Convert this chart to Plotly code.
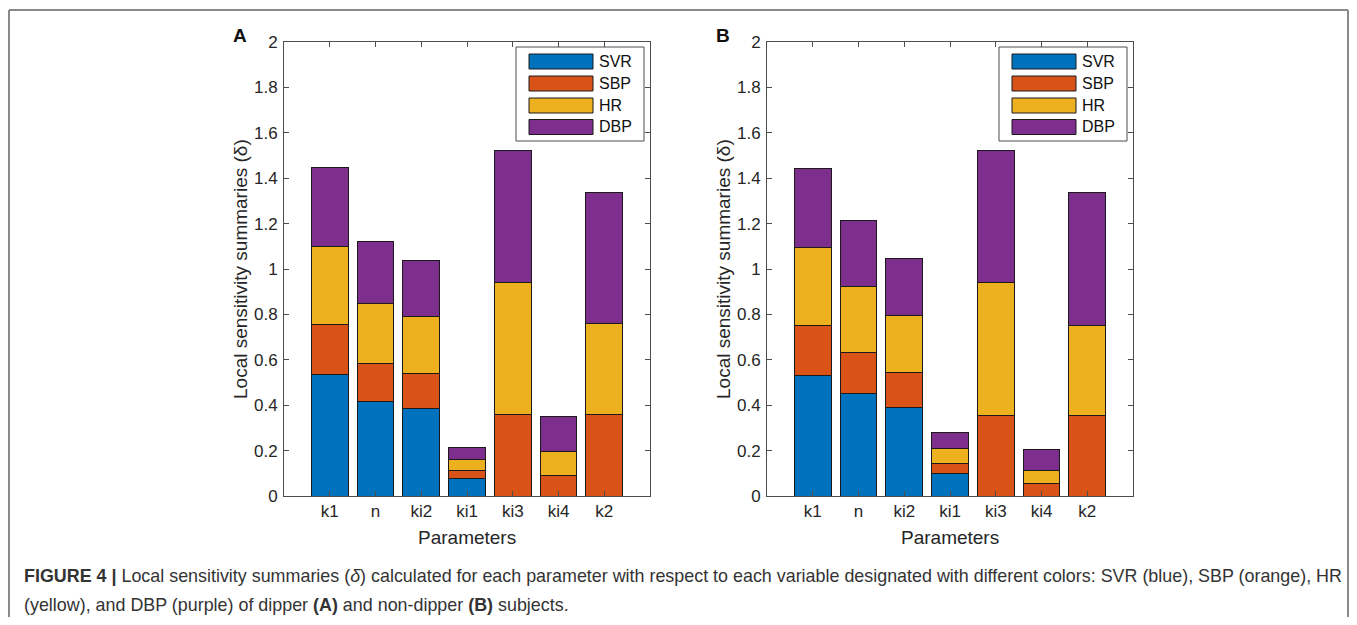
import plotly.graph_objects as go

# page body has an 8px margin; figure sized to fit inside the 1357x625 window
OFF = 8
W, H = 1357 - 2 * OFF, 625 - 2 * OFF

categories = ["k1", "n", "ki2", "ki1", "ki3", "ki4", "k2"]
series_names = ["SVR", "SBP", "HR", "DBP"]
series_colors = ["#0072BD", "#D95319", "#EDB120", "#7E2F8E"]

# Panel A (dipper) - segment heights
a_svr = [0.537, 0.415, 0.386, 0.078, 0.0, 0.0, 0.0]
a_sbp = [0.219, 0.169, 0.154, 0.034, 0.360, 0.090, 0.359]
a_hr = [0.345, 0.265, 0.250, 0.051, 0.580, 0.104, 0.401]
a_dbp = [0.348, 0.271, 0.247, 0.052, 0.581, 0.155, 0.579]

# Panel B (non-dipper) - segment heights
b_svr = [0.532, 0.451, 0.388, 0.101, 0.0, 0.0, 0.0]
b_sbp = [0.218, 0.181, 0.154, 0.042, 0.356, 0.053, 0.354]
b_hr = [0.343, 0.289, 0.251, 0.068, 0.584, 0.060, 0.398]
b_dbp = [0.349, 0.294, 0.254, 0.068, 0.582, 0.091, 0.585]

y_tickvals = [0, 0.2, 0.4, 0.6, 0.8, 1.0, 1.2, 1.4, 1.6, 1.8, 2.0]
y_ticktext = ["0", "0.2", "0.4", "0.6", "0.8", "1", "1.2", "1.4", "1.6", "1.8", "2"]

caption_line1 = ("<b>FIGURE 4 |</b> Local sensitivity summaries (<i>δ</i>) calculated for each parameter "
                 "with respect to each variable designated with different colors: SVR (blue), SBP (orange), HR")
caption_line2 = "(yellow), and DBP (purple) of dipper <b>(A)</b> and non-dipper <b>(B)</b> subjects."

FONT = "Liberation Sans, Arial, sans-serif"
TXT = "#262626"


def px(x):
    return (x - OFF) / W


def py(y):
    return 1 - (y - OFF) / H


fig = go.Figure()

panels = [
    ("x", "y", [a_svr, a_sbp, a_hr, a_dbp]),
    ("x2", "y2", [b_svr, b_sbp, b_hr, b_dbp]),
]
for xa, ya, data in panels:
    for name, color, vals in zip(series_names, series_colors, data):
        fig.add_trace(go.Bar(
            x=categories, y=vals, name=name, xaxis=xa, yaxis=ya,
            marker=dict(color=color, line=dict(color="#1a1a1a", width=1)),
            showlegend=False, hoverinfo="x+y+name",
        ))

axis_common = dict(
    showline=True, linecolor="#4d4d4d", linewidth=1, mirror="ticks",
    ticks="inside", ticklen=5, tickcolor="#4d4d4d",
    tickfont=dict(family=FONT, size=17, color=TXT),
    showgrid=False, zeroline=False, automargin=False,
)

xdoms = [[px(284), px(650)], [px(767), px(1133)]]
ydom = [py(496), py(42)]

fig.update_layout(
    template="none",
    width=W, height=H, margin=dict(l=0, r=0, t=0, b=0, pad=0), autosize=False,
    paper_bgcolor="white", plot_bgcolor="white",
    barmode="stack", bargap=0.2,
    xaxis=dict(domain=xdoms[0], anchor="y", type="category", range=[-1, 7], **axis_common),
    yaxis=dict(domain=ydom, anchor="x", range=[0, 2], tickvals=y_tickvals, ticktext=y_ticktext,
               ticklabelstandoff=2, **axis_common),
    xaxis2=dict(domain=xdoms[1], anchor="y2", type="category", range=[-1, 7], **axis_common),
    yaxis2=dict(domain=ydom, anchor="x2", range=[0, 2], tickvals=y_tickvals, ticktext=y_ticktext,
                ticklabelstandoff=2, **axis_common),
)

shapes = []
annotations = []

# outer frame (left/top/right)
frame = dict(xref="paper", yref="paper", line=dict(color="#8a8a8a", width=2), layer="above", type="line")
shapes.append(dict(frame, x0=px(9), x1=px(9), y0=py(640), y1=py(10)))
shapes.append(dict(frame, x0=px(9), x1=px(1348), y0=py(10), y1=py(10)))
shapes.append(dict(frame, x0=px(1348), x1=px(1348), y0=py(640), y1=py(10)))

for i, off in enumerate([0, 483]):
    annotations.append(dict(text="Local sensitivity summaries (δ)", xref="paper", yref="paper",
                            x=px(240 + off), y=py(269), textangle=-90, showarrow=False,
                            xanchor="center", yanchor="middle",
                            font=dict(family=FONT, size=19, color=TXT)))
    annotations.append(dict(text="Parameters", xref="paper", yref="paper",
                            x=px(467 + off), y=py(537), showarrow=False,
                            xanchor="center", yanchor="middle",
                            font=dict(family=FONT, size=19, color=TXT)))
    annotations.append(dict(text="<b>" + "AB"[i] + "</b>", xref="paper", yref="paper",
                            x=px(240 + off), y=py(35), showarrow=False,
                            xanchor="center", yanchor="middle",
                            font=dict(family=FONT, size=19, color="#111111")))
    shapes.append(dict(type="rect", xref="paper", yref="paper",
                       x0=px(516 + off), x1=px(644 + off), y0=py(141), y1=py(47),
                       line=dict(color="#4d4d4d", width=1), fillcolor="white", layer="above"))
    row_tops = [54, 76, 98, 119.5]
    for name, color, top in zip(series_names, series_colors, row_tops):
        shapes.append(dict(type="rect", xref="paper", yref="paper",
                           x0=px(529 + off), x1=px(593 + off), y0=py(top + 15), y1=py(top),
                           line=dict(color="#1a1a1a", width=1), fillcolor=color, layer="above"))
        annotations.append(dict(text=name, xref="paper", yref="paper",
                                x=px(597 + off), y=py(top + 7.5), showarrow=False,
                                xanchor="left", yanchor="middle",
                                font=dict(family=FONT, size=16, color="#111111")))

annotations.append(dict(text=caption_line1, xref="paper", yref="paper", x=px(22), y=py(576),
                        showarrow=False, xanchor="left", yanchor="middle",
                        font=dict(family=FONT, size=17.9, color="#333333")))
annotations.append(dict(text=caption_line2, xref="paper", yref="paper", x=px(22), y=py(605),
                        showarrow=False, xanchor="left", yanchor="middle",
                        font=dict(family=FONT, size=17.9, color="#333333")))

fig.update_layout(shapes=shapes, annotations=annotations)
fig.write_html("out.html")
